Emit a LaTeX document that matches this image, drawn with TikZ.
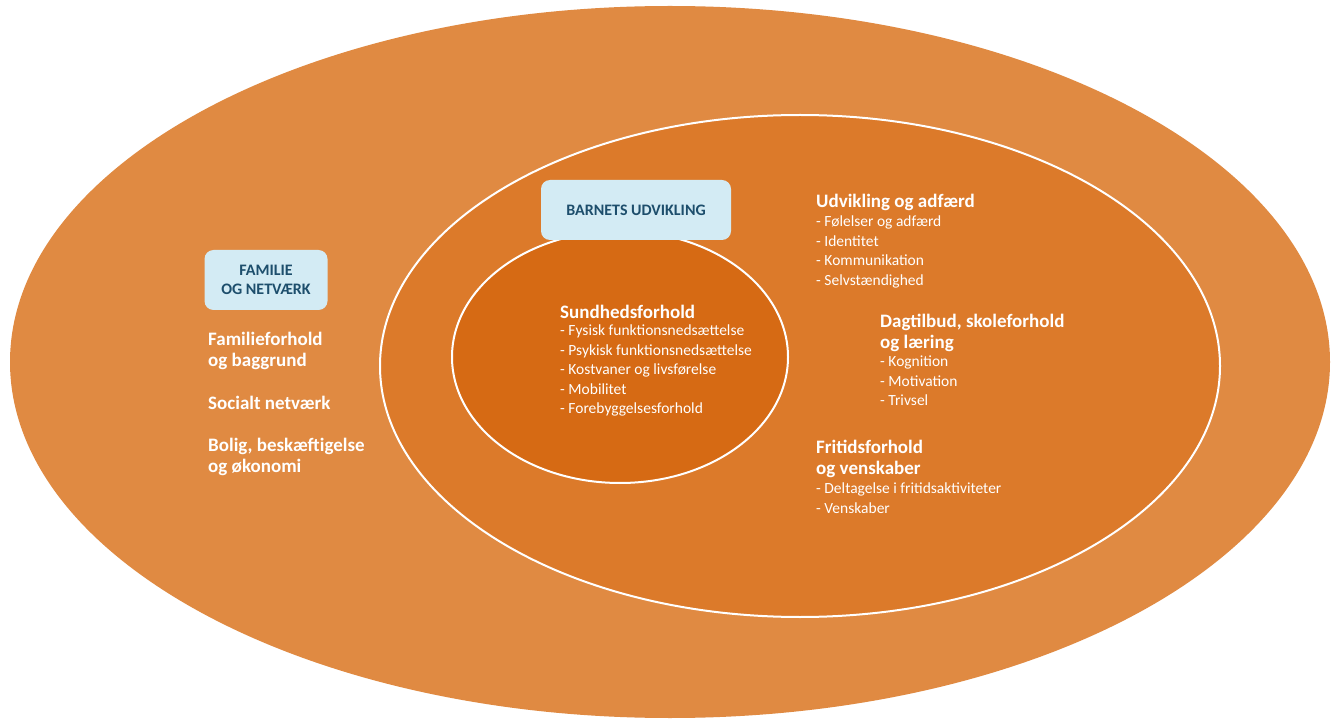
\documentclass[tikz,border=0pt]{standalone}
\usepackage{fontspec}
\setmainfont{Carlito}
\definecolor{outerC}{HTML}{E08A42}
\definecolor{midC}{HTML}{DC7A2A}
\definecolor{innC}{HTML}{D66A14}
\definecolor{boxC}{HTML}{D3EBF4}
\definecolor{boxT}{HTML}{1D4E6C}
\begin{document}
\begin{tikzpicture}[x=1pt,y=-1pt,
  lbl/.style={fill=boxC,rounded corners=9pt,text=boxT,font=\bfseries\fontsize{16}{19}\selectfont,align=center},
  ttl/.style={anchor=north west,text=white,font=\bfseries\fontsize{19}{21}\selectfont,align=left,inner sep=0pt},
  itm/.style={anchor=north west,text=white,font=\fontsize{15.5}{19.5}\selectfont,align=left,inner sep=0pt}]
\useasboundingbox (0,0) rectangle (1342,727);
\fill[white] (0,0) rectangle (1342,727);
\fill[outerC] (670,362) ellipse [x radius=660, y radius=356];
\draw[white,line width=2pt,fill=midC] (800,366) ellipse [x radius=420, y radius=251];
\draw[white,line width=2pt,fill=innC] (620,357) ellipse [x radius=168, y radius=126];
\node[lbl,minimum width=190pt,minimum height=60pt] (b) at (636,210) {BARNETS UDVIKLING};
\node[lbl,minimum width=123pt,minimum height=60pt] (f) at (266,280) {FAMILIE\\OG NETVÆRK};
\node[ttl] (s) at (560,305) {Sundhedsforhold};
\node[itm] (si) at (560,325) {- Fysisk funktionsnedsættelse\\- Psykisk funktionsnedsættelse\\- Kostvaner og livsførelse\\- Mobilitet\\- Forebyggelsesforhold};
\node[ttl] (u) at (816,194) {Udvikling og adfærd};
\node[itm] (ui) at (816,216) {- Følelser og adfærd\\- Identitet\\- Kommunikation\\- Selvstændighed};
\node[ttl] (d) at (880,314) {Dagtilbud, skoleforhold\\og læring};
\node[itm] (di) at (880,356) {- Kognition\\- Motivation\\- Trivsel};
\node[ttl] (fr) at (816,440) {Fritidsforhold\\og venskaber};
\node[itm] (fri) at (816,483) {- Deltagelse i fritidsaktiviteter\\- Venskaber};
\node[ttl] (a) at (208,332) {Familieforhold\\og baggrund};
\node[ttl] (n) at (208,396) {Socialt netværk};
\node[ttl] (o) at (208,438) {Bolig, beskæftigelse\\og økonomi};
\end{tikzpicture}
\end{document}
